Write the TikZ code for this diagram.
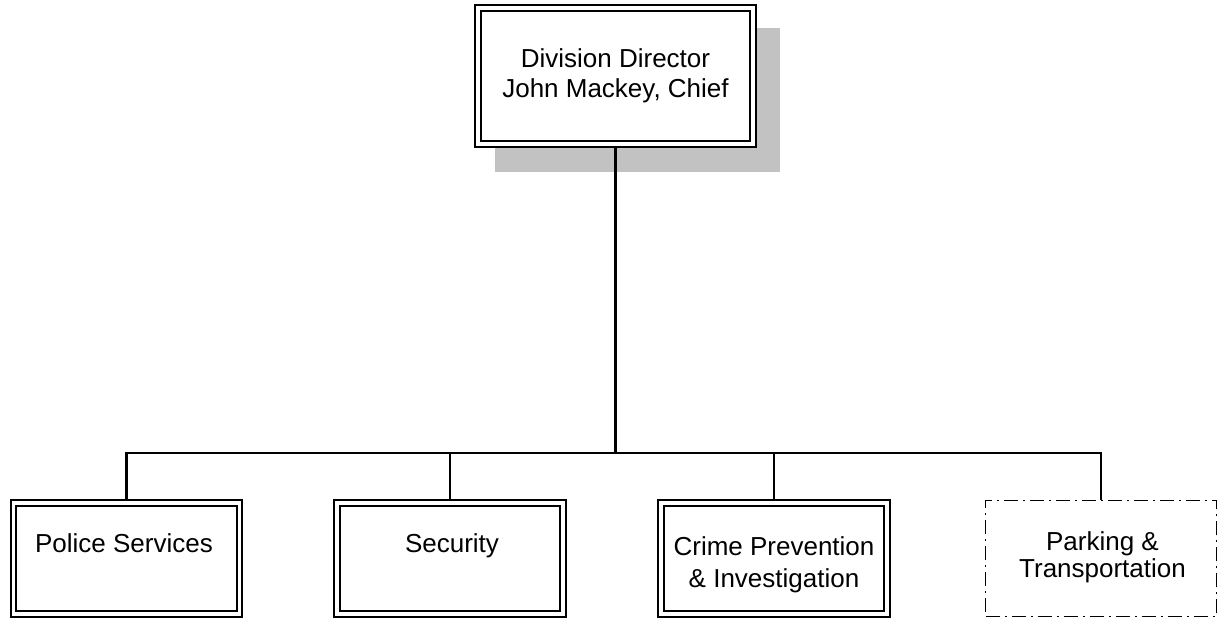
\documentclass[tikz,border=0pt]{standalone}
\usepackage{fontspec}
\setmainfont{Liberation Sans}
\usetikzlibrary{backgrounds}
\definecolor{shadowgray}{gray}{0.76}
\begin{document}
\begin{tikzpicture}[x=0.5pt,y=-0.5pt,
  unitbox/.style={draw=black, line width=1pt, double=white, double distance=1.8pt,
    fill=white, inner sep=0pt, outer sep=0pt, align=center,
    font=\fontsize{13}{15}\selectfont},
  lowbox/.style={unitbox, minimum width=113pt, minimum height=55.5pt},
  dashbox/.style={draw=black, line width=0.8pt,
    dash pattern=on 7pt off 2.5pt on 1pt off 2.5pt,
    fill=white, inner sep=0pt, outer sep=0pt},
  unitlabel/.style={inner sep=0pt, outer sep=0pt, align=center},
  wire/.style={draw=black, line width=1.1pt}]
\useasboundingbox (0,0) rectangle (1217,619);

% director with its offset shadow
\node[unitbox, minimum width=137.5pt, minimum height=68pt] (dir) at (615.5,76)
  {Division Director\\John Mackey, Chief};
\begin{pgfonlayer}{background}
  \fill[shadowgray] ([shift={(17,20)}]dir.north west) rectangle ([shift={(27,28)}]dir.south east);
\end{pgfonlayer}

% unit boxes
\node[lowbox] (police) at (126.5,558.5) {};
\node[lowbox] (security) at (450,558.5) {};
\node[lowbox] (crime) at (774,558.5) {};
\node[dashbox, minimum width=115.5pt, minimum height=58pt] (parking) at (1101,558.5) {};

% unit names
\node[unitlabel, anchor=base, font=\fontsize{13}{15}\selectfont] (police-name) at (124,553) {Police Services};
\node[unitlabel, anchor=base, font=\fontsize{13}{15}\selectfont] (security-name) at (452,553) {Security};
\node[unitlabel, font=\fontsize{13}{16}\selectfont] (crime-name) at (774,564.5) {Crime Prevention\\\& Investigation};
\node[unitlabel, font=\fontsize{13}{13.5}\selectfont] (parking-name) at (1102.5,557) {Parking \&\\Transportation};

% connectors
\coordinate (bus) at (615.5,453);
\draw[wire, shorten <=1.9pt] (dir.south) -- (bus);
\draw[wire, shorten >=1.9pt] (bus) -| (police.north);
\draw[wire, shorten >=1.9pt] (bus) -| (security.north);
\draw[wire, shorten >=1.9pt] (bus) -| (crime.north);
\draw[wire] (bus) -| (parking.north);
\end{tikzpicture}
\end{document}
